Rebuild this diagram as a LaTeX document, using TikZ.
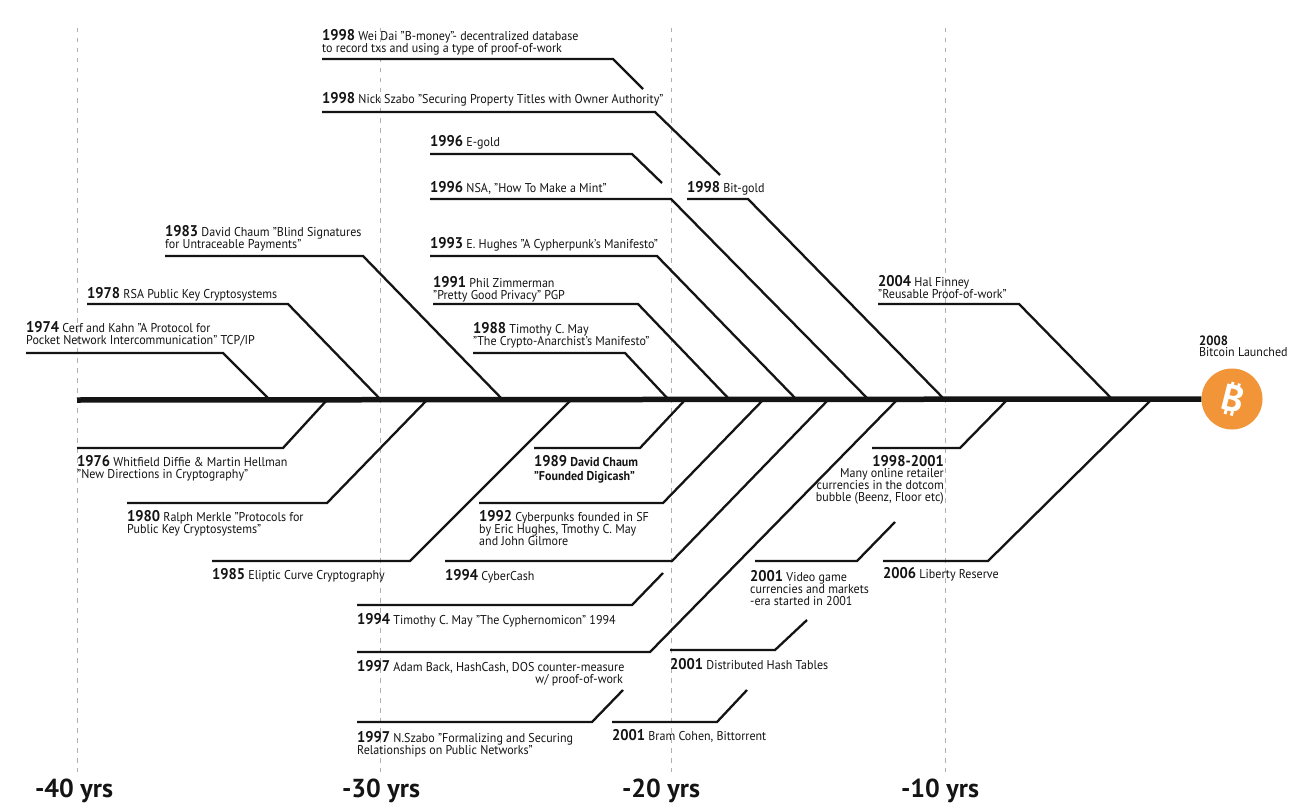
\documentclass[tikz,border=0pt]{standalone}
\usepackage{fontspec}
\setmainfont{PT Sans}[FakeStretch=0.94]
\newfontfamily\bigfont{PT Sans}
\definecolor{btc}{RGB}{242,148,56}
\definecolor{ink}{RGB}{20,20,20}
\definecolor{dashgray}{RGB}{175,175,175}
\newcommand\Y[1]{{\fontsize{15.5}{15}\selectfont\bfseries #1}}
\newcommand\ML[1]{\vtop{\baselineskip=12pt\lineskiplimit=-20pt\lineskip=0pt #1}}
\newcommand\bentline[4]{%
  \coordinate (#1-1) at (#2); \coordinate (#1-2) at (#3); \coordinate (#1-3) at (#4);
  \draw[ln] (#1-1) -- (#1-2) -- (#1-3);}
\begin{document}
\begin{tikzpicture}[x=1pt,y=-1pt,
  lbl/.style={anchor=base west,inner sep=0pt,font=\fontsize{12.8}{12}\selectfont,text=ink},
  lblr/.style={lbl,anchor=base east},
  ln/.style={line width=2.3pt,line cap=butt,line join=miter,draw=ink},
  axisline/.style={line width=5.5pt,draw=ink},
  vguide/.style={draw=dashgray,line width=0.9pt,dash pattern=on 4.5pt off 5.5pt},
  yrs/.style={anchor=base,inner sep=0pt,font=\bigfont\fontsize{26}{26}\selectfont\bfseries,text=ink},
]
\useasboundingbox (0,0) rectangle (1291,808);
\fill[white] (0,0) rectangle (1291,808);

% dashed guides
\foreach \gx/\gn in {77/g40,380/g30,671/g20,945/g10}{
  \coordinate (\gn a) at (\gx,28); \coordinate (\gn b) at (\gx,772);
  \draw[vguide] (\gn a) -- (\gn b);}

% axis and bitcoin
\node[circle,fill=btc,minimum size=61pt,inner sep=0pt] (btc) at (1232,399) {};
\coordinate (axL) at (77,400);
\draw[axisline] (axL) -- (btc.west);
\node[font=\bigfont\fontsize{37}{37}\selectfont\bfseries,text=white,rotate=-14,inner sep=0pt] (btcB) at (1233,399) {B};
\begin{scope}[shift={(1233,399)},rotate=-14]
  \fill[white] (-5.5pt,12pt) rectangle (-2.6pt,16.5pt);
  \fill[white] (1pt,12pt) rectangle (3.9pt,16.5pt);
  \fill[white] (-5.5pt,-12pt) rectangle (-2.6pt,-16.5pt);
  \fill[white] (1pt,-12pt) rectangle (3.9pt,-16.5pt);
\end{scope}

% top connectors
\bentline{c74}{26,353}{223,353}{270,400}
\bentline{c78}{87,304}{288,304}{381,400}
\bentline{c83}{165,256}{363,256}{503,400}
\bentline{c98a}{322,59}{613,59}{643,89}
\bentline{c98b}{322,112}{655,112}{720,175}
\bentline{c96a}{430,154}{632,154}{662,183}
\bentline{c96b}{430,199}{671,199}{869,400}
\bentline{c98c}{687,199}{748,199}{945,400}
\bentline{c93}{430,256}{657,256}{797,400}
\bentline{c91}{433,304}{638,304}{730,400}
\bentline{c88}{473,353}{625,353}{669,400}
\bentline{c04}{878,304}{1019,304}{1113,400}

% bottom connectors
\bentline{c76}{327,400}{283,448}{77,448}
\bentline{c80}{427,400}{327,503}{127,503}
\bentline{c85}{571,400}{410,561}{212,561}
\bentline{c89}{685,400}{640,448}{534,448}
\bentline{c92}{763,400}{663,503}{479,503}
\bentline{c94a}{828,400}{672,561}{445,561}
\bentline{c94b}{663,573}{632,605}{357,605}
\bentline{c97a}{897,400}{650,652}{357,652}
\bentline{c97b}{623,690}{592,722}{357,722}
\bentline{c01a}{747,690}{717,722}{612,722}
\bentline{c01b}{807,620}{775,650}{670,650}
\bentline{c9801}{1007,400}{960,448}{872,448}
\bentline{c01c}{895,522}{857,561}{755,561}
\bentline{c06}{1151,400}{988,561}{883,561}

% top labels
\node[lbl] (t74) at (26,332.5) {\ML{\hbox{\Y{1974} Cerf and Kahn "A Protocol for}\hbox{Pocket Network Intercommunication" TCP/IP}}};
\node[lbl] (t78) at (87,298) {\Y{1978} RSA Public Key Cryptosystems};
\node[lbl] (t83) at (165,236.5) {\ML{\hbox{\Y{1983} David Chaum "Blind Signatures}\hbox{for Untraceable Payments"}}};
\node[lbl] (t98a) at (322,40.5) {\ML{\hbox{\Y{1998} Wei Dai "B-money"- decentralized database}\hbox{to record txs and using a type of proof-of-work}}};
\node[lbl] (t98b) at (322,103.5) {\Y{1998} Nick Szabo "Securing Property Titles with Owner Authority"};
\node[lbl] (t96a) at (430,146.5) {\Y{1996} E-gold};
\node[lbl] (t96b) at (430,192) {\Y{1996} NSA, "How To Make a Mint"};
\node[lbl] (t98c) at (687,192) {\Y{1998} Bit-gold};
\node[lbl] (t93) at (430,248.5) {\Y{1993} E. Hughes "A Cypherpunk's Manifesto"};
\node[lbl] (t91) at (433,287) {\ML{\hbox{\Y{1991} Phil Zimmerman}\hbox{"Pretty Good Privacy" PGP}}};
\node[lbl] (t88) at (473,333) {\ML{\hbox{\Y{1988} Timothy C. May}\hbox{"The Crypto-Anarchist's Manifesto"}}};
\node[lbl] (t04) at (878,286) {\ML{\hbox{\Y{2004} Hal Finney}\hbox{"Reusable Proof-of-work"}}};
\node[lbl,font=\fontsize{13.5}{13}\selectfont\bfseries] (t08y) at (1199,345) {2008};
\node[lbl] (t08t) at (1199,356.5) {Bitcoin Launched};

% bottom labels
\node[lbl] (b76) at (77,466) {\ML{\hbox{\Y{1976} Whitfield Diffie \& Martin Hellman}\hbox{"New Directions in Cryptography"}}};
\node[lbl] (b80) at (127,521.3) {\ML{\hbox{\Y{1980} Ralph Merkle "Protocols for}\hbox{Public Key Cryptosystems"}}};
\node[lbl] (b85) at (212,579) {\Y{1985} Eliptic Curve Cryptography};
\node[lbl] (b89a) at (534,466) {\Y{1989} \bfseries David Chaum};
\node[lbl,font=\fontsize{12.8}{12}\selectfont\bfseries] (b89b) at (534,480) {"Founded Digicash"};
\node[lbl] (b92) at (479,521) {\ML{\hbox{\Y{1992} Cyberpunks founded in SF}\hbox{by Eric Hughes, Tmothy C. May}\hbox{and John Gilmore}}};
\node[lbl] (b94a) at (445,580) {\Y{1994} CyberCash};
\node[lbl] (b94b) at (357,624) {\Y{1994} Timothy C. May "The Cyphernomicon" 1994};
\node[lbl] (b97a) at (357,671) {\Y{1997} Adam Back, HashCash, DOS counter-measure};
\node[lblr] (b97a2) at (623,683) {w/ proof-of-work};
\node[lbl] (b97b) at (357,742) {\ML{\hbox{\Y{1997} N.Szabo "Formalizing and Securing}\hbox{Relationships on Public Networks"}}};
\node[lbl] (b01a) at (612,740) {\Y{2001} Bram Cohen, Bittorrent};
\node[lbl] (b01b) at (670,669) {\Y{2001} Distributed Hash Tables};
\node[lblr] (b9801a) at (944,466) {\Y{1998-2001}};
\node[lblr] (b9801b) at (944,477.7) {Many online retailer};
\node[lblr] (b9801c) at (944,489.6) {currencies in the dotcom};
\node[lblr] (b9801d) at (944,501.5) {bubble (Beenz, Floor etc)};
\node[lbl] (b01c) at (750,581) {\ML{\hbox{\Y{2001} Video game}\hbox{currencies and markets}\hbox{-era started in 2001}}};
\node[lbl] (b06) at (883,578.5) {\Y{2006} Liberty Reserve};

% scale labels
\node[yrs] (l40) at (74,797) {-40 yrs};
\node[yrs] (l30) at (381,797) {-30 yrs};
\node[yrs] (l20) at (661,797) {-20 yrs};
\node[yrs] (l10) at (940,797) {-10 yrs};
\end{tikzpicture}
\end{document}
